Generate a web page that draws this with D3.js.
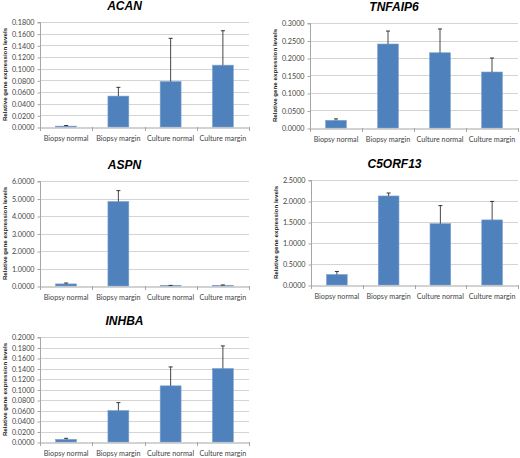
<!DOCTYPE html>
<html><head><meta charset="utf-8">
<script src="https://cdn.jsdelivr.net/npm/d3@7"></script>
<style>body{margin:0;background:#fff}svg{display:block}</style>
</head><body>
<script>
const categories = ["Biopsy normal", "Biopsy margin", "Culture normal", "Culture margin"];
const genes = ["ACAN", "TNFAIP6", "ASPN", "C5ORF13", "INHBA"];
const acanMean = [0.0015, 0.053, 0.078, 0.106];
const acanUpper = [0.0025, 0.068, 0.152, 0.165];
const tnfaip6Mean = [0.022, 0.240, 0.215, 0.160];
const tnfaip6Upper = [0.026, 0.277, 0.283, 0.200];
const aspnMean = [0.12, 4.83, 0.03, 0.03];
const aspnUpper = [0.17, 5.45, 0.035, 0.06];
const c5orf13Mean = [0.25, 2.12, 1.46, 1.55];
const c5orf13Upper = [0.32, 2.19, 1.89, 1.99];
const inhbaMean = [0.005, 0.060, 0.107, 0.140];
const inhbaUpper = [0.007, 0.075, 0.143, 0.183];
const yMaxes = [0.18, 0.30, 6.0, 2.5, 0.20];
const yTickSteps = [0.02, 0.05, 1.0, 0.5, 0.02];
const yAxisTitle = "Relative gene expression levels";

const means = [acanMean, tnfaip6Mean, aspnMean, c5orf13Mean, inhbaMean];
const uppers = [acanUpper, tnfaip6Upper, aspnUpper, c5orf13Upper, inhbaUpper];
const frames = [
  {l: 40, r: 249, t: 22, b: 127},
  {l: 310, r: 518, t: 23, b: 128},
  {l: 40, r: 249, t: 181, b: 286},
  {l: 311, r: 518, t: 180, b: 285},
  {l: 40, r: 249, t: 337, b: 442}
];

const svg = d3.select("body").append("svg").attr("width", 520).attr("height", 458);
const tickFont = "Lato, 'Open Sans', sans-serif";

genes.forEach((gene, i) => {
  const f = frames[i];
  const g = svg.append("g");
  const x = d3.scaleBand().domain(categories).range([f.l, f.r]).paddingInner(0.6).paddingOuter(0.3);
  const xb = d3.scaleBand().domain(categories).range([f.l, f.r]);
  const y = d3.scaleLinear().domain([0, yMaxes[i]]).range([f.b, f.t]);
  const ticks = d3.range(0, yMaxes[i] + yTickSteps[i] / 2, yTickSteps[i]);

  // gridlines
  g.selectAll(".grid").data(ticks.slice(1)).join("line")
    .attr("x1", f.l).attr("x2", f.r)
    .attr("y1", d => Math.round(y(d)) + 0.5).attr("y2", d => Math.round(y(d)) + 0.5)
    .attr("stroke", "#d4d4d4").attr("stroke-width", 1);

  // y axis
  const ya = d3.axisLeft(y).tickValues(ticks).tickFormat(d3.format(".4f")).tickSize(3).tickPadding(3);
  const yg = g.append("g").attr("transform", `translate(${f.l + 0.5},0.5)`).call(ya);
  yg.select(".domain").attr("stroke", "#a6a6a6").attr("d", `M-3,${y(yMaxes[i])}H0V${f.b}`);
  yg.selectAll(".tick line").attr("stroke", "#a6a6a6");
  yg.selectAll("text").attr("font-family", tickFont).attr("font-size", 7.2).attr("fill", "#444");

  // bars
  g.selectAll(".bar").data(categories).join("rect")
    .attr("x", d => x(d)).attr("width", x.bandwidth())
    .attr("y", (d, j) => y(means[i][j]))
    .attr("height", (d, j) => f.b - y(means[i][j]))
    .attr("fill", "#4f81bd").attr("stroke", "#7ea3d0").attr("stroke-width", 0.6);

  // error bars (upper only)
  const eb = g.selectAll(".err").data(categories).join("g");
  eb.append("line")
    .attr("x1", d => x(d) + x.bandwidth() / 2).attr("x2", d => x(d) + x.bandwidth() / 2)
    .attr("y1", (d, j) => y(means[i][j])).attr("y2", (d, j) => y(uppers[i][j]))
    .attr("stroke", "#333").attr("stroke-width", 0.9);
  eb.append("line")
    .attr("x1", d => x(d) + x.bandwidth() / 2 - 2).attr("x2", d => x(d) + x.bandwidth() / 2 + 2)
    .attr("y1", (d, j) => y(uppers[i][j])).attr("y2", (d, j) => y(uppers[i][j]))
    .attr("stroke", "#333").attr("stroke-width", 1);

  // x axis
  const xa = d3.axisBottom(xb).tickSize(0).tickPadding(8);
  const xg = g.append("g").attr("transform", `translate(0,${f.b + 0.5})`).call(xa);
  xg.select(".domain").attr("stroke", "#a6a6a6");
  xg.selectAll("text").attr("font-family", tickFont).attr("font-size", 7.2).attr("fill", "#444");
  // category boundary ticks
  const bounds = categories.map(c => xb(c)).concat([f.r]);
  g.selectAll(".xt").data(bounds).join("line")
    .attr("x1", d => Math.round(d) + 0.5).attr("x2", d => Math.round(d) + 0.5)
    .attr("y1", f.b).attr("y2", f.b + 4)
    .attr("stroke", "#a6a6a6");

  // title
  g.append("text").attr("x", (f.l - 40 + f.r) / 2).attr("y", f.t - 12)
    .attr("text-anchor", "middle").attr("font-family", "Liberation Sans, Arial, sans-serif")
    .attr("font-weight", "bold").attr("font-style", "italic").attr("font-size", 12)
    .text(gene);

  // y axis title
  g.append("text").attr("transform", `translate(${f.l - 33},${(f.t + f.b) / 2}) rotate(-90)`)
    .attr("text-anchor", "middle").attr("font-family", "Liberation Sans, Arial, sans-serif")
    .attr("font-weight", "bold").attr("font-size", 6.2).attr("fill", "#222")
    .text(yAxisTitle);
});
</script>
</body></html>
